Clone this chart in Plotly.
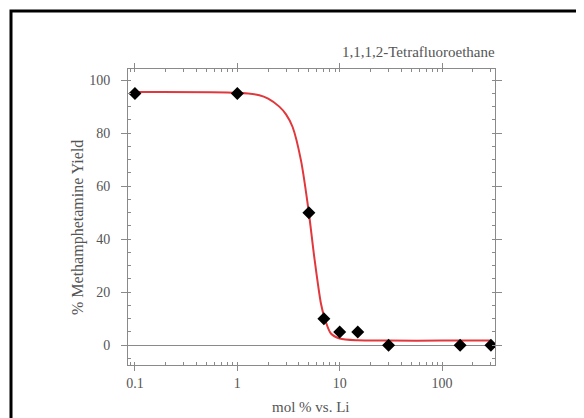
import plotly.graph_objects as go

# Data points
mol_pct = [0.1, 1, 5, 7, 10, 15, 30, 150, 300]
yield_pct = [95, 95, 50, 10, 5, 5, 0, 0, 0]

# Fitted curve
fit_x = [0.1, 1.0, 1.64, 2.0, 2.57, 3.0, 3.46, 4.18, 4.96, 5.64, 6.55, 7.06, 8.2, 10, 15, 30, 100, 300]
fit_y = [95.5, 95.2, 94.3, 93.0, 90.0, 87.0, 82.4, 69.8, 50.9, 33.3, 15.8, 10.7, 4.4, 2.5, 1.8, 1.7, 1.7, 1.7]

x_ticks = [0.1, 1, 10, 100]
x_tick_labels = ["0.1", "1", "10", "100"]
y_ticks = [0, 20, 40, 60, 80, 100]

title_text = "1,1,1,2-Tetrafluoroethane"
x_title = "mol % vs. Li"
y_title = "% Methamphetamine Yield"

# page has an 8px body margin, so the figure is drawn at (8, 8)
OFF = 8
W, H = 584 - OFF, 418 - OFF
L, T = 128 - OFF, 69 - OFF
pw, ph = 495 - 128, 365 - 69
R, B = W - L - pw, H - T - ph

def px_x(p):
    return (p - OFF - L) / pw

def px_y(p):
    return (H - B - (p - OFF)) / ph

font_family = "Liberation Serif, Times New Roman, serif"
axis_col = "#8a8a8a"
text_col = "#555555"

fig = go.Figure()
fig.add_trace(go.Scatter(
    x=fit_x, y=fit_y, mode="lines",
    line=dict(color="#e0383c", width=2, shape="spline", smoothing=0.8),
    hoverinfo="skip", showlegend=False,
))
fig.add_trace(go.Scatter(
    x=mol_pct, y=yield_pct, mode="markers",
    marker=dict(symbol="diamond", size=10, color="black"),
    showlegend=False,
))

fig.update_layout(
    width=W, height=H,
    margin=dict(l=L, r=R, t=T, b=B),
    paper_bgcolor="white", plot_bgcolor="white",
    font=dict(family=font_family, size=14, color=text_col),
    showlegend=False,
    xaxis=dict(
        type="log", range=[-1.068, 2.517],
        tickvals=x_ticks, ticktext=x_tick_labels,
        showgrid=False, zeroline=False,
        showline=True, linecolor=axis_col, linewidth=1, mirror="ticks",
        ticks="outside", ticklen=5, tickcolor=axis_col,
        minor=dict(ticks="inside", ticklen=3, tickcolor=axis_col, dtick="D1", showgrid=False),
        tickfont=dict(family=font_family, size=14, color=text_col),
    ),
    yaxis=dict(
        range=[-7.5, 104.2],
        tickvals=y_ticks,
        showgrid=False,
        zeroline=True, zerolinecolor=axis_col, zerolinewidth=1,
        showline=True, linecolor=axis_col, linewidth=1, mirror="ticks",
        ticks="outside", ticklen=6, tickcolor=axis_col,
        ticklabelstandoff=8,
        minor=dict(ticks="inside", ticklen=3, tickcolor=axis_col, dtick=5, showgrid=False),
        tickfont=dict(family=font_family, size=14, color=text_col),
    ),
    annotations=[
        dict(text=title_text, xref="paper", yref="paper", x=px_x(497), y=px_y(52),
             xanchor="right", yanchor="middle", showarrow=False,
             font=dict(family=font_family, size=15, color=text_col)),
        dict(text=x_title, xref="paper", yref="paper", x=px_x(311), y=px_y(407),
             xanchor="center", yanchor="middle", showarrow=False,
             font=dict(family=font_family, size=15, color=text_col)),
        dict(text=y_title, xref="paper", yref="paper", x=px_x(78), y=px_y(228),
             xanchor="center", yanchor="middle", showarrow=False, textangle=-90,
             font=dict(family=font_family, size=16, color=text_col)),
    ],
    shapes=[
        dict(type="rect", xref="paper", yref="paper",
             x0=px_x(11), y0=px_y(440), x1=px_x(620), y1=px_y(11),
             line=dict(color="black", width=3), fillcolor="rgba(0,0,0,0)", layer="above"),
    ],
)

fig.write_html("out.html")
